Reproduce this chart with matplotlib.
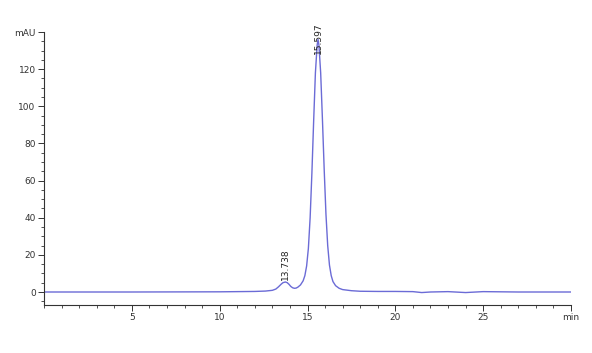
import numpy as np
import matplotlib
matplotlib.use("Agg")
import matplotlib.pyplot as plt
from matplotlib.ticker import MultipleLocator

# retention time (min) and detector signal (mAU)
time_min = [0, 5, 10, 11, 12, 12.6, 13.0, 13.2, 13.35, 13.5, 13.6, 13.74, 13.85, 13.95,
            14.05, 14.15, 14.25, 14.35, 14.45, 14.6, 14.75, 14.85, 14.95, 15.05, 15.15,
            15.25, 15.35, 15.45, 15.55, 15.6, 15.65, 15.75, 15.85, 15.95, 16.05, 16.15,
            16.25, 16.35, 16.45, 16.6, 16.8, 17.0, 17.5, 18.0, 19.0, 20.0, 21.0, 21.5,
            22.0, 23.0, 24.0, 25.0, 26.0, 27.0, 28.0, 30.0]
signal_mau = [0, 0, 0.1, 0.2, 0.3, 0.5, 0.9, 1.6, 2.8, 4.2, 5.0, 5.4, 5.0, 4.1,
              3.0, 2.3, 2.0, 2.1, 2.6, 3.8, 6.0, 8.8, 14.0, 23.5, 40.0,
              64.0, 92.0, 118.0, 133.0, 136.0, 133.0, 118.0, 93.0, 66.0, 42.0, 25.0,
              14.5, 8.8, 5.6, 3.4, 2.0, 1.3, 0.7, 0.4, 0.3, 0.3, 0.2, -0.3,
              0.0, 0.2, -0.3, 0.2, 0.1, 0.0, 0.0, 0.0]

peak_times = [13.738, 15.597]
peak_labels = ["13.738", "15.597"]
peak_label_y = [6.5, 128]

x_ticks = [5, 10, 15, 20, 25, 30]
x_ticklabels = ["5", "10", "15", "20", "25", "min"]
y_ticks = [0, 20, 40, 60, 80, 100, 120, 140]
y_ticklabels = ["0", "20", "40", "60", "80", "100", "120", "mAU"]

fig = plt.figure(figsize=(5.92, 3.53), dpi=100)
ax = fig.add_axes([44/592, 1 - 305/353, (571 - 44)/592, (305 - 32)/353])

ax.plot(time_min, signal_mau, color="#6b6bd6", lw=1.0)

for t, lab, yy in zip(peak_times, peak_labels, peak_label_y):
  ax.text(t, yy, lab, rotation=90, ha="center", va="bottom", fontsize=6.5, color="#222222")

ax.set_xlim(0, 30)
ax.set_ylim(-7, 140)

ax.set_xticks(x_ticks)
ax.set_xticklabels(x_ticklabels)
ax.set_yticks(y_ticks)
ax.set_yticklabels(y_ticklabels)
ax.xaxis.set_minor_locator(MultipleLocator(1))
ax.yaxis.set_minor_locator(MultipleLocator(5))

ax.tick_params(which="major", length=4, width=0.7, labelsize=6.5, colors="#333333", pad=2)
ax.tick_params(which="minor", length=2, width=0.6, colors="#333333")

for side in ["top", "right"]:
  ax.spines[side].set_visible(False)
for side in ["left", "bottom"]:
  ax.spines[side].set_linewidth(0.8)
  ax.spines[side].set_color("#333333")

fig.savefig("out.png", dpi=100)
